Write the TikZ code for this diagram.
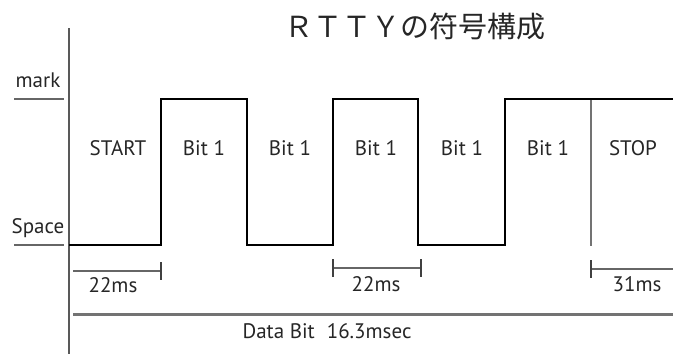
\documentclass[tikz,border=0pt]{standalone}
\usepackage{fontspec}
\setmainfont{PT Sans}
\newfontfamily\cjkfont{Noto Sans CJK JP}
\tikzset{
  lbl/.style={inner sep=0pt, font=\fontsize{21}{23}\selectfont, text=black!85},
  sig/.style={line width=2.6pt, black, line join=miter},
  axisline/.style={line width=1.2pt, black!65},
  uline/.style={line width=2pt, black!60},
  divider/.style={line width=1.6pt, black!55},
  meas/.style={line width=1.5pt, black!60},
  tickmark/.style={line width=1.6pt, black!75},
  databit/.style={line width=3pt, black!55}
}
\begin{document}
\begin{tikzpicture}[x=1pt,y=-1pt]
\useasboundingbox (0,0) rectangle (673,354);
% title
\node[inner sep=0pt, font=\cjkfont\fontsize{29}{31}\selectfont, text=black!85] (title) at (415,27) {ＲＴＴＹの符号構成};
% axis
\coordinate (axtop) at (69,28);
\coordinate (axbot) at (69,354);
\draw[axisline] (axtop) -- (axbot);
% level labels
\node[lbl] (mark) at (38,80) {mark};
\node[lbl] (space) at (38,228) {Space};
\coordinate (mk1) at (14,99); \coordinate (mk2) at (64,99);
\coordinate (sp1) at (14,245); \coordinate (sp2) at (64,245);
\draw[uline] (mk1) -- (mk2);
\draw[uline] (sp1) -- (sp2);
% STOP divider
\coordinate (dv1) at (591,100); \coordinate (dv2) at (591,246);
\draw[divider] (dv1) -- (dv2);
% signal
\draw[sig] (69,245) -- (161,245) -- (161,99) -- (247,99) -- (247,245) -- (333,245)
  -- (333,99) -- (418,99) -- (418,245) -- (505,245) -- (505,99) -- (674,99);
% bit labels
\node[lbl] (start) at (118,148) {START};
\node[lbl] (b1) at (204,148) {Bit 1};
\node[lbl] (b2) at (290,148) {Bit 1};
\node[lbl] (b3) at (376,148) {Bit 1};
\node[lbl] (b4) at (462,148) {Bit 1};
\node[lbl] (b5) at (548,148) {Bit 1};
\node[lbl] (stop) at (633,148) {STOP};
% measurements
\coordinate (m1a) at (73,271); \coordinate (m1b) at (161,271);
\draw[meas] (m1a) -- (m1b);
\draw[tickmark] (161,262) -- (161,280);
\node[lbl] (t1) at (113,285) {22ms};
\coordinate (m2a) at (333,268); \coordinate (m2b) at (421,268);
\draw[meas] (m2a) -- (m2b);
\draw[tickmark] (333,259) -- (333,277);
\draw[tickmark] (421,259) -- (421,277);
\node[lbl] (t2) at (376,284) {22ms};
\coordinate (m3a) at (591,269); \coordinate (m3b) at (673,269);
\draw[meas] (m3a) -- (m3b);
\draw[tickmark] (591,260) -- (591,278);
\node[lbl] (t3) at (637,284) {31ms};
% data bit
\coordinate (d1) at (73,314); \coordinate (d2) at (673,314);
\draw[databit] (d1) -- (d2);
\node[lbl] (db) at (327,331) {Data Bit\hspace{12pt}16.3msec};
\end{tikzpicture}
\end{document}
